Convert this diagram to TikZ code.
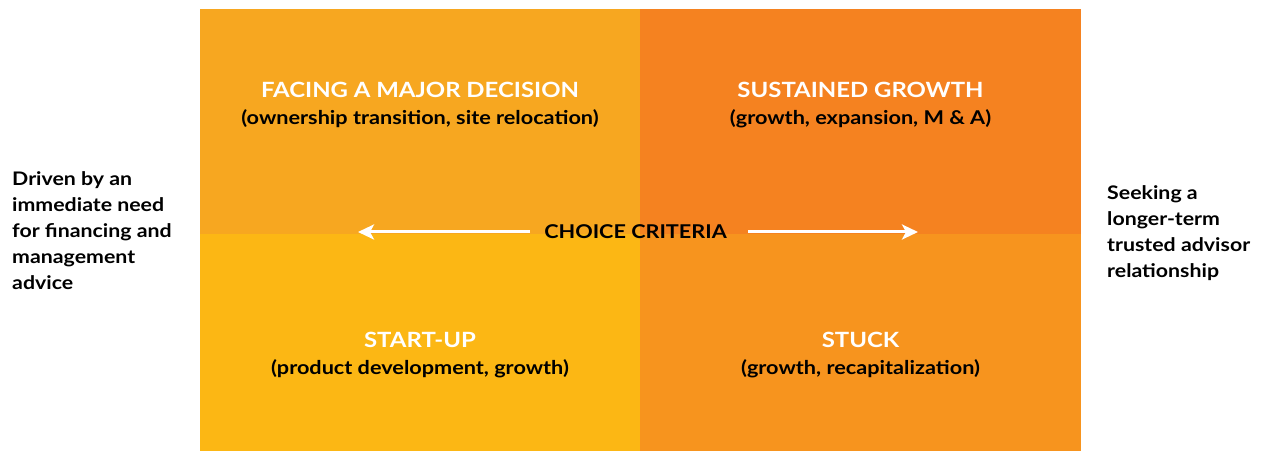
\documentclass[tikz,border=0pt]{standalone}
\usepackage{fontspec}
\setmainfont{Lato}[FakeStretch=1.14]
\usetikzlibrary{arrows.meta}
\definecolor{qTL}{RGB}{247,167,32}
\definecolor{qTR}{RGB}{245,130,32}
\definecolor{qBL}{RGB}{252,183,20}
\definecolor{qBR}{RGB}{247,148,30}
\tikzset{
  qtitle/.style={anchor=base, inner sep=0pt, text=white, font=\fontsize{21}{25}\selectfont\bfseries},
  qsub/.style={anchor=base, inner sep=0pt, text=black, font=\fontsize{19}{23}\selectfont\bfseries},
  side/.style={anchor=base west, inner sep=0pt, align=left, text=black, font=\fontsize{18.7}{26}\selectfont\bfseries},
  crit/.style={anchor=base, inner sep=0pt, text=black, font=\fontsize{19}{23}\selectfont\bfseries},
  critarrow/.style={draw=white, line width=3pt, -{Stealth[length=16pt,width=15pt,inset=4pt]}}
}
\begin{document}
\begin{tikzpicture}[x=1pt,y=1pt]
\useasboundingbox (0,0) rectangle (1261,452);
\fill[white] (0,0) rectangle (1261,452);
% quadrants
\fill[qTL] (200,443) rectangle (640,218);
\fill[qTR] (640,443) rectangle (1081,218);
\fill[qBL] (200,218) rectangle (640,1);
\fill[qBR] (640,218) rectangle (1081,1);
% titles
\node[qtitle] (tlT) at (420,354.3) {FACING A MAJOR DECISION};
\node[qsub]   (tlS) at (420,327) {(ownership transition, site relocation)};
\node[qtitle] (trT) at (860.5,354.3) {SUSTAINED GROWTH};
\node[qsub]   (trS) at (860.5,327) {(growth, expansion, M \& A)};
\node[qtitle] (blT) at (420,104.3) {START-UP};
\node[qsub]   (blS) at (420,77.7) {(product development, growth)};
\node[qtitle] (brT) at (860.5,104.3) {STUCK};
\node[qsub]   (brS) at (860.5,77.7) {(growth, recapitalization)};
% choice criteria
\node[crit] (cc) at (635.5,213) {CHOICE CRITERIA};
\coordinate (lA) at (530,220);
\coordinate (lB) at (358,220);
\coordinate (rA) at (748,220);
\coordinate (rB) at (918,220);
\draw[critarrow] (lA) -- (lB);
\draw[critarrow] (rA) -- (rB);
% side texts (base = last line)
\node[side] (left) at (12,162.3) {Driven by an\\immediate need\\for financing and\\management\\advice};
\node[side] (right) at (1107,174.7) {Seeking a\\longer-term\\trusted advisor\\relationship};
\end{tikzpicture}
\end{document}
